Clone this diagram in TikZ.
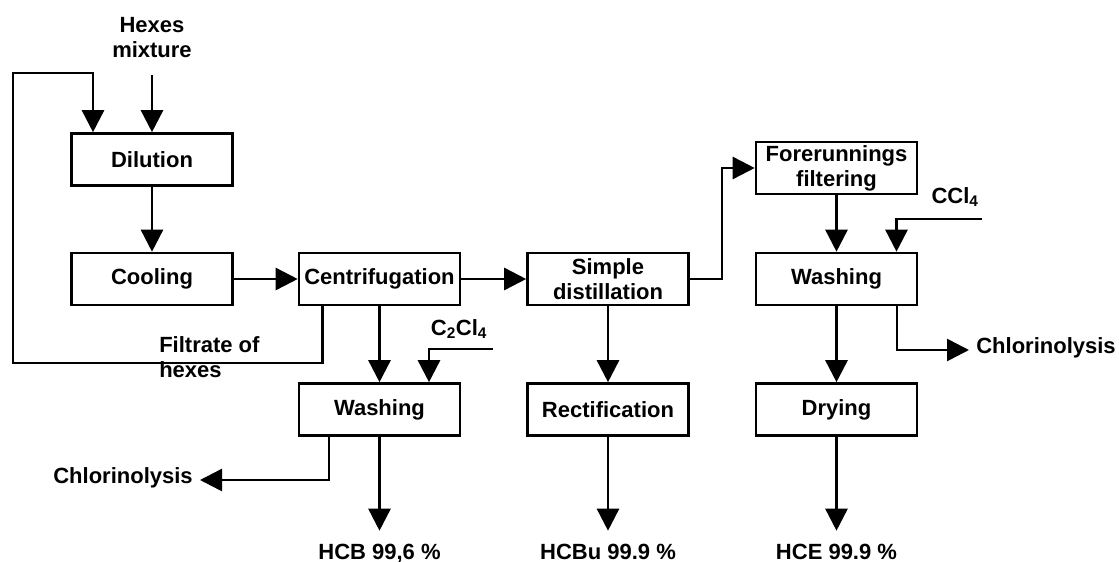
\documentclass[tikz,border=0pt]{standalone}
\usepackage{fontspec}
\setmainfont{Liberation Sans}
\usetikzlibrary{arrows.meta}
\begin{document}
\begin{tikzpicture}[x=1pt,y=-1pt,line width=2.6pt,
  font=\fontsize{22}{25}\selectfont\bfseries,
  box/.style={draw, minimum width=161pt, minimum height=52pt, align=center, inner sep=2pt},
  arr/.style={-{Triangle[length=22pt,width=22pt]}},
  lbl/.style={inner sep=0pt, align=center},
  prod/.style={inner xsep=0pt, inner ysep=11pt, text height=16pt, anchor=base},
  side/.style={inner xsep=6pt, inner ysep=0pt, text height=16pt, text depth=9pt}
]
\useasboundingbox (0,0) rectangle (1119,562);

% process boxes
\node[box] (dil) at (152,159.5) {Dilution};
\node[box] (cool) at (152,279) {Cooling};
\node[box] (cen) at (379.5,279) {Centrifugation};
\node[box] (wa1) at (379.5,409.5) {Washing};
\node[box] (sd) at (608,279) {Simple\\distillation};
\node[box] (rec) at (608,409.5) {Rectification};
\node[box] (ff) at (836.5,168) {Forerunnings\\filtering};
\node[box] (wa2) at (836.5,279) {Washing};
\node[box] (dry) at (836.5,409.5) {Drying};

% labels
\node[lbl, anchor=base] (hex) at (152,57) {Hexes\\mixture};
\coordinate (hexin) at (152,75);
\node[lbl, anchor=base west, align=left] (filt) at (158,377) {Filtrate of\\hexes};
\node[lbl] (c2) at (459,329) {C\textsubscript{2}Cl\textsubscript{4}};
\coordinate (c2in) at (493,349);
\node[lbl] (ccl) at (955,197) {CCl\textsubscript{4}};
\coordinate (cclin) at (982,219);
\node[side, anchor=east] (chl1) at (200,480) {Chlorinolysis};
\node[side, anchor=west] (chl2) at (969,350) {Chlorinolysis};
\node[prod] (hcb) at (379.5,559) {HCB 99,6 \%};
\node[prod] (hcbu) at (608,559) {HCBu 99.9 \%};
\node[prod] (hce) at (836.5,559) {HCE 99.9 \%};
\coordinate (fb1) at (13,363);
\coordinate (fb2) at (13,73);

% connectors
\draw[arr] (hexin) -- (dil.north);
\draw[arr] ([xshift=-57pt]cen.south) |- (fb1) -- (fb2) -| ([xshift=-59pt]dil.north);
\draw[arr] (dil) -- (cool);
\draw[arr] (cool) -- (cen);
\draw[arr] (cen) -- (sd);
\draw[arr] (cen) -- (wa1);
\draw[arr] (c2in) -| ([xshift=49.5pt]wa1.north);
\draw[arr] (sd.east) -- ++(32,0) |- (ff.west);
\draw[arr] (sd) -- (rec);
\draw[arr] (ff) -- (wa2);
\draw[arr] (cclin) -| ([xshift=60pt]wa2.north);
\draw[arr] (wa2) -- (dry);
\draw[arr] ([xshift=60.5pt]wa2.south) |- (chl2.west);
\draw[arr] ([xshift=-50.5pt]wa1.south) |- (chl1.east);
\draw[arr] (wa1) -- (hcb);
\draw[arr] (rec) -- (hcbu);
\draw[arr] (dry) -- (hce);
\end{tikzpicture}
\end{document}
